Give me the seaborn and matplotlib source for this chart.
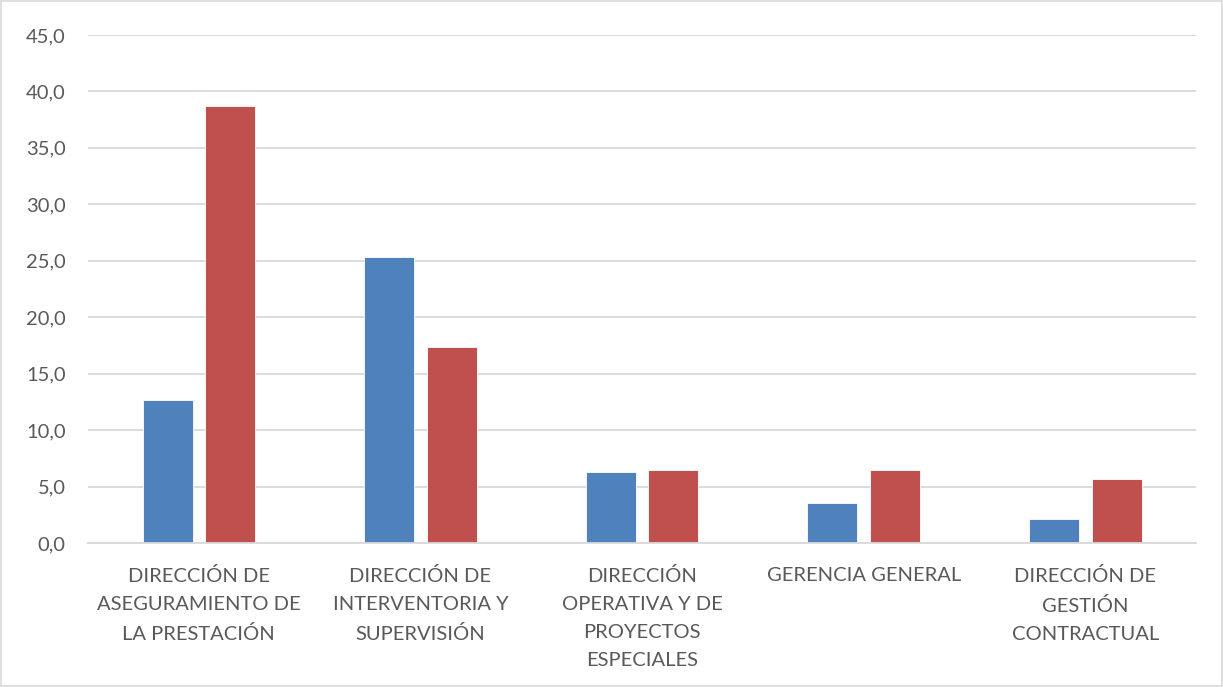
import matplotlib
matplotlib.use('Agg')
import matplotlib.pyplot as plt
from matplotlib.patches import Rectangle
from matplotlib.ticker import FuncFormatter
import seaborn as sns
import pandas as pd

categories = [
    'DIRECCIÓN DE\nASEGURAMIENTO DE\nLA PRESTACIÓN',
    'DIRECCIÓN DE\nINTERVENTORIA Y\nSUPERVISIÓN',
    'DIRECCIÓN\nOPERATIVA Y DE\nPROYECTOS\nESPECIALES',
    'GERENCIA GENERAL',
    'DIRECCIÓN DE\nGESTIÓN\nCONTRACTUAL',
]
serie_1 = [12.7, 25.3, 6.3, 3.5, 2.1]
serie_2 = [38.7, 17.4, 6.5, 6.5, 5.7]
series_names = ['Serie 1', 'Serie 2']
yticks = [0, 5, 10, 15, 20, 25, 30, 35, 40, 45]

df = pd.DataFrame({
    'categoria': categories * 2,
    'valor': serie_1 + serie_2,
    'serie': [series_names[0]] * len(categories) + [series_names[1]] * len(categories),
})

sns.set_theme(style='white')
plt.rcParams['font.family'] = ['Lato', 'DejaVu Sans']

grid_c = '#D9D9D9'
text_c = '#595959'

fig = plt.figure(figsize=(12.23, 6.87), dpi=100)
ax = fig.add_axes([0.072, 0.2096, 0.906, 0.7395])

sns.barplot(
    data=df, x='categoria', y='valor', hue='serie', ax=ax,
    palette=['#4F81BD', '#C0504D'], width=0.564, gap=0.2,
    edgecolor='white', linewidth=0.6, legend=False, saturation=1,
)

ax.set_ylim(0, 45)
ax.set_yticks(yticks)
ax.yaxis.set_major_formatter(FuncFormatter(lambda v, p: f'{v:.1f}'.replace('.', ',')))
ax.set_xlim(-0.5, len(categories) - 0.5)
ax.grid(axis='y', color=grid_c, linewidth=1.3)
ax.set_axisbelow(True)
for s in ['top', 'right', 'left']:
    ax.spines[s].set_visible(False)
ax.spines['bottom'].set_color(grid_c)
ax.spines['bottom'].set_linewidth(1.3)
ax.tick_params(axis='y', length=0, pad=16, labelsize=14.5, labelcolor=text_c)
ax.tick_params(axis='x', length=0, pad=17.5, labelsize=14.5, labelcolor=text_c)
for lab in ax.get_xticklabels():
    lab.set_linespacing(1.78)
ax.set_xlabel('')
ax.set_ylabel('')

fig.patches.append(Rectangle((0.001, 0.001), 0.998, 0.997, transform=fig.transFigure,
                             fill=False, edgecolor=grid_c, linewidth=1.2))

fig.savefig('out.png', dpi=100)
